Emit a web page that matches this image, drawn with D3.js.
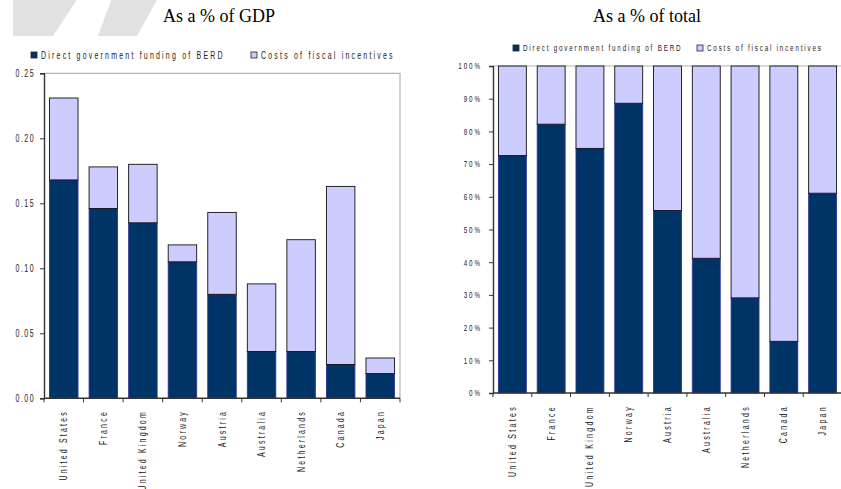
<!DOCTYPE html>
<html>
<head>
<meta charset="utf-8">
<script src="https://cdn.jsdelivr.net/npm/d3@7"></script>
<style>
  html, body { margin: 0; padding: 0; background: #fff; }
  svg { display: block; }
  .tick-lbl, .cat-lbl, .leg-lbl { font-family: "Liberation Sans", Arial, sans-serif; fill: #222; }
  .title { font-family: "Liberation Serif", "Times New Roman", serif; font-size: 18px; fill: #000; }
</style>
</head>
<body>
<svg id="chart" width="841" height="489"></svg>
<script>
// Government support for business R&D, by country
const categories = ["United States", "France", "United Kingdom", "Norway", "Austria", "Australia", "Netherlands", "Canada", "Japan"];
const seriesNames = ["Direct government funding of BERD", "Costs of fiscal incentives"];

// As a % of GDP
const directGDP = [0.168, 0.146, 0.135, 0.105, 0.080, 0.036, 0.036, 0.026, 0.019];
const fiscalGDP = [0.063, 0.032, 0.045, 0.013, 0.063, 0.052, 0.086, 0.137, 0.012];
const gdpTicks = [0, 0.05, 0.10, 0.15, 0.20, 0.25];

// As a % of total support
const directShare = [72.6, 82.2, 74.8, 88.6, 55.8, 41.2, 29.1, 15.8, 61.1];
const fiscalShare = [27.4, 17.8, 25.2, 11.4, 44.2, 58.8, 70.9, 84.2, 38.9];
const shareTicks = [0, 10, 20, 30, 40, 50, 60, 70, 80, 90, 100];

const colors = ["#003366", "#ccccff"];
const strokes = ["#333399", "#111111"];
const SX = 0.7; // horizontal squeeze for the condensed label face

const svg = d3.select("#chart");

// Decorative banner shapes in the top-left corner
svg.append("g").selectAll("path")
  .data([
    [[13, -2], [78, -2], [53, 36], [13, 36]],
    [[112, -2], [158, -2], [137, 36], [98, 36]]
  ])
  .join("path")
  .attr("d", d => d3.line()(d) + "Z")
  .attr("fill", "#e1e1e1");

function drawPanel(opts) {
  const g = svg.append("g");
  const x = d3.scaleBand().domain(categories)
    .range([opts.x0, opts.x1]).paddingInner(0.28).paddingOuter(0.14);
  const y = d3.scaleLinear().domain(opts.domain).range([opts.y0, opts.y1]);

  // Title
  g.append("text").attr("class", "title")
    .attr("x", opts.titleX).attr("y", 22)
    .attr("text-anchor", "middle").text(opts.title);

  // Frame (top and right)
  g.append("path")
    .attr("d", `M${opts.x0},${opts.y1}H${opts.x1}V${opts.y0}`)
    .attr("fill", "none").attr("stroke", "#b4b4b4").attr("stroke-width", 1.2);

  // Stacked bars
  const stacked = categories.map((c, i) => ({ c, vals: [opts.direct[i], opts.fiscal[i]] }));
  stacked.forEach(d => {
    let base = 0;
    d.vals.forEach((v, k) => {
      g.append("rect")
        .attr("x", x(d.c)).attr("width", x.bandwidth())
        .attr("y", y(base + v)).attr("height", y(base) - y(base + v))
        .attr("fill", colors[k]).attr("stroke", strokes[k]).attr("stroke-width", 0.9);
      base += v;
    });
  });

  // Y axis
  const ya = d3.axisLeft(y).tickValues(opts.ticks).tickFormat(opts.fmt)
    .tickSize(4).tickPadding(5);
  const yg = g.append("g").attr("transform", `translate(${opts.x0},0)`).call(ya);
  yg.attr("font-family", null).attr("font-size", null);
  yg.select(".domain").attr("stroke", "#333").attr("stroke-width", 1.4);
  yg.selectAll(".tick line").attr("stroke", "#333");
  yg.selectAll("text").attr("class", "tick-lbl")
    .attr("x", -opts.tickGap / SX)
    .attr("transform", `scale(${SX},1)`)
    .style("font-size", opts.tickFont + "px")
    .style("letter-spacing", (opts.tickSpacing / SX) + "px")
    .attr("fill", "#222");

  // X axis with ticks at category boundaries
  g.append("line")
    .attr("x1", opts.x0).attr("x2", opts.x1).attr("y1", opts.y0).attr("y2", opts.y0)
    .attr("stroke", "#333").attr("stroke-width", 1.4);
  const bounds = d3.range(categories.length + 1).map(i => opts.x0 + i * x.step());
  g.selectAll(".xtick").data(bounds).join("line")
    .attr("x1", d => d).attr("x2", d => d)
    .attr("y1", opts.y0).attr("y2", opts.y0 + 4)
    .attr("stroke", "#333");

  // Category labels, rotated and condensed
  g.selectAll(".cat-lbl").data(categories).join("text")
    .attr("class", "cat-lbl")
    .attr("transform", d => `translate(${x(d) + x.bandwidth() / 2},${opts.labelY}) rotate(-90) scale(${SX},1)`)
    .attr("text-anchor", "end").attr("dy", "0.35em")
    .style("font-size", opts.catFont + "px")
    .style("letter-spacing", (opts.catSpacing / SX) + "px")
    .text(d => d);

  // Legend
  const lg = g.append("g");
  opts.legend.forEach((L, k) => {
    lg.append("rect").attr("x", L.x).attr("y", opts.legendY - 3)
      .attr("width", 6).attr("height", 6)
      .attr("fill", colors[k]).attr("stroke", "#222").attr("stroke-width", 0.8);
    lg.append("text").attr("class", "leg-lbl")
      .attr("transform", `translate(${L.x + 10},${opts.legendY}) scale(${SX},1)`)
      .attr("dy", "0.35em")
      .style("font-size", opts.legFont + "px")
      .style("letter-spacing", (opts.legSpacing / SX) + "px")
      .text(seriesNames[k]);
  });
}

drawPanel({
  title: "As a % of GDP", titleX: 219,
  x0: 44, x1: 400, y0: 398.3, y1: 73.3,
  domain: [0, 0.25], ticks: gdpTicks, fmt: d3.format(".2f"),
  direct: directGDP, fiscal: fiscalGDP,
  tickFont: 10, tickSpacing: 1.45, tickGap: 9,
  catFont: 10, catSpacing: 2.2, labelY: 410,
  legendY: 55, legFont: 10, legSpacing: 2.2,
  legend: [{ x: 31 }, { x: 251 }]
});

drawPanel({
  title: "As a % of total", titleX: 647,
  x0: 493, x1: 842, y0: 393, y1: 66,
  domain: [0, 100], ticks: shareTicks, fmt: d => d + "%",
  direct: directShare, fiscal: fiscalShare,
  tickFont: 9, tickSpacing: 1.9, tickGap: 11,
  catFont: 10, catSpacing: 2.3, labelY: 405,
  legendY: 48, legFont: 9, legSpacing: 1.8,
  legend: [{ x: 513 }, { x: 697 }]
});
</script>
</body>
</html>
